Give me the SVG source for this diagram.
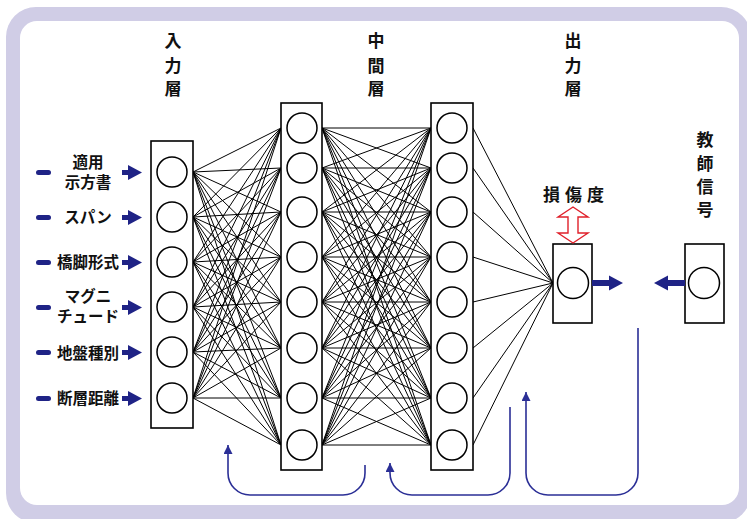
<svg xmlns="http://www.w3.org/2000/svg" width="747" height="519" viewBox="0 0 747 519">
<defs>
<style>
.t{font-family:"Noto Sans CJK JP","Noto Sans CJK SC",sans-serif;font-weight:bold;fill:#111;text-anchor:middle}
.lbl{font-size:15.5px}
.ttl{font-size:17px}
.box{fill:#fff;stroke:#000;stroke-width:1.6}
.nd{fill:#fff;stroke:#000;stroke-width:1.5}
.cn line{stroke:#000;stroke-width:1}
.navy{fill:#1f2386}
.fb{fill:none;stroke:#2b2f96;stroke-width:1.6}
</style>
<marker id="ah" viewBox="0 0 10 10" refX="10" refY="5" markerWidth="10" markerHeight="9" markerUnits="userSpaceOnUse" orient="auto">
<path d="M0,0 L10,5 L0,10 Z" fill="#2b2f96"/>
</marker>
</defs>
<rect x="6" y="7" width="745" height="516" rx="30" fill="#d0cde6"/>
<rect x="20" y="21" width="719" height="484" rx="17" fill="#fff"/>

<g id="connectors" class="cn">
<g id="c-in-h1">
<line x1="193" y1="172" x2="281" y2="128"/><line x1="193" y1="172" x2="281" y2="168"/><line x1="193" y1="172" x2="281" y2="212"/><line x1="193" y1="172" x2="281" y2="257"/><line x1="193" y1="172" x2="281" y2="302"/><line x1="193" y1="172" x2="281" y2="348"/><line x1="193" y1="172" x2="281" y2="398"/><line x1="193" y1="172" x2="281" y2="445"/>
<line x1="193" y1="217" x2="281" y2="128"/><line x1="193" y1="217" x2="281" y2="168"/><line x1="193" y1="217" x2="281" y2="212"/><line x1="193" y1="217" x2="281" y2="257"/><line x1="193" y1="217" x2="281" y2="302"/><line x1="193" y1="217" x2="281" y2="348"/><line x1="193" y1="217" x2="281" y2="398"/><line x1="193" y1="217" x2="281" y2="445"/>
<line x1="193" y1="262" x2="281" y2="128"/><line x1="193" y1="262" x2="281" y2="168"/><line x1="193" y1="262" x2="281" y2="212"/><line x1="193" y1="262" x2="281" y2="257"/><line x1="193" y1="262" x2="281" y2="302"/><line x1="193" y1="262" x2="281" y2="348"/><line x1="193" y1="262" x2="281" y2="398"/><line x1="193" y1="262" x2="281" y2="445"/>
<line x1="193" y1="307" x2="281" y2="128"/><line x1="193" y1="307" x2="281" y2="168"/><line x1="193" y1="307" x2="281" y2="212"/><line x1="193" y1="307" x2="281" y2="257"/><line x1="193" y1="307" x2="281" y2="302"/><line x1="193" y1="307" x2="281" y2="348"/><line x1="193" y1="307" x2="281" y2="398"/><line x1="193" y1="307" x2="281" y2="445"/>
<line x1="193" y1="352" x2="281" y2="128"/><line x1="193" y1="352" x2="281" y2="168"/><line x1="193" y1="352" x2="281" y2="212"/><line x1="193" y1="352" x2="281" y2="257"/><line x1="193" y1="352" x2="281" y2="302"/><line x1="193" y1="352" x2="281" y2="348"/><line x1="193" y1="352" x2="281" y2="398"/><line x1="193" y1="352" x2="281" y2="445"/>
<line x1="193" y1="398" x2="281" y2="128"/><line x1="193" y1="398" x2="281" y2="168"/><line x1="193" y1="398" x2="281" y2="212"/><line x1="193" y1="398" x2="281" y2="257"/><line x1="193" y1="398" x2="281" y2="302"/><line x1="193" y1="398" x2="281" y2="348"/><line x1="193" y1="398" x2="281" y2="398"/><line x1="193" y1="398" x2="281" y2="445"/>
</g>
<g id="c-h1-h2">
<line x1="322" y1="128" x2="431" y2="128"/><line x1="322" y1="128" x2="431" y2="168"/><line x1="322" y1="128" x2="431" y2="212"/><line x1="322" y1="128" x2="431" y2="257"/><line x1="322" y1="128" x2="431" y2="302"/><line x1="322" y1="128" x2="431" y2="348"/><line x1="322" y1="128" x2="431" y2="398"/><line x1="322" y1="128" x2="431" y2="445"/>
<line x1="322" y1="168" x2="431" y2="128"/><line x1="322" y1="168" x2="431" y2="168"/><line x1="322" y1="168" x2="431" y2="212"/><line x1="322" y1="168" x2="431" y2="257"/><line x1="322" y1="168" x2="431" y2="302"/><line x1="322" y1="168" x2="431" y2="348"/><line x1="322" y1="168" x2="431" y2="398"/><line x1="322" y1="168" x2="431" y2="445"/>
<line x1="322" y1="212" x2="431" y2="128"/><line x1="322" y1="212" x2="431" y2="168"/><line x1="322" y1="212" x2="431" y2="212"/><line x1="322" y1="212" x2="431" y2="257"/><line x1="322" y1="212" x2="431" y2="302"/><line x1="322" y1="212" x2="431" y2="348"/><line x1="322" y1="212" x2="431" y2="398"/><line x1="322" y1="212" x2="431" y2="445"/>
<line x1="322" y1="257" x2="431" y2="128"/><line x1="322" y1="257" x2="431" y2="168"/><line x1="322" y1="257" x2="431" y2="212"/><line x1="322" y1="257" x2="431" y2="257"/><line x1="322" y1="257" x2="431" y2="302"/><line x1="322" y1="257" x2="431" y2="348"/><line x1="322" y1="257" x2="431" y2="398"/><line x1="322" y1="257" x2="431" y2="445"/>
<line x1="322" y1="302" x2="431" y2="128"/><line x1="322" y1="302" x2="431" y2="168"/><line x1="322" y1="302" x2="431" y2="212"/><line x1="322" y1="302" x2="431" y2="257"/><line x1="322" y1="302" x2="431" y2="302"/><line x1="322" y1="302" x2="431" y2="348"/><line x1="322" y1="302" x2="431" y2="398"/><line x1="322" y1="302" x2="431" y2="445"/>
<line x1="322" y1="348" x2="431" y2="128"/><line x1="322" y1="348" x2="431" y2="168"/><line x1="322" y1="348" x2="431" y2="212"/><line x1="322" y1="348" x2="431" y2="257"/><line x1="322" y1="348" x2="431" y2="302"/><line x1="322" y1="348" x2="431" y2="348"/><line x1="322" y1="348" x2="431" y2="398"/><line x1="322" y1="348" x2="431" y2="445"/>
<line x1="322" y1="398" x2="431" y2="128"/><line x1="322" y1="398" x2="431" y2="168"/><line x1="322" y1="398" x2="431" y2="212"/><line x1="322" y1="398" x2="431" y2="257"/><line x1="322" y1="398" x2="431" y2="302"/><line x1="322" y1="398" x2="431" y2="348"/><line x1="322" y1="398" x2="431" y2="398"/><line x1="322" y1="398" x2="431" y2="445"/>
<line x1="322" y1="445" x2="431" y2="128"/><line x1="322" y1="445" x2="431" y2="168"/><line x1="322" y1="445" x2="431" y2="212"/><line x1="322" y1="445" x2="431" y2="257"/><line x1="322" y1="445" x2="431" y2="302"/><line x1="322" y1="445" x2="431" y2="348"/><line x1="322" y1="445" x2="431" y2="398"/><line x1="322" y1="445" x2="431" y2="445"/>
</g>
<g id="c-h2-out">
<line x1="473" y1="128" x2="553" y2="283"/><line x1="473" y1="168" x2="553" y2="283"/><line x1="473" y1="212" x2="553" y2="283"/><line x1="473" y1="257" x2="553" y2="283"/><line x1="473" y1="302" x2="553" y2="283"/><line x1="473" y1="348" x2="553" y2="283"/><line x1="473" y1="398" x2="553" y2="283"/><line x1="473" y1="445" x2="553" y2="283"/>
</g>
<g id="feedback">
<path class="fb" d="M365,465 V473 A22,22 0 0 1 343,495 H250 A22,22 0 0 1 228,473 V445" marker-end="url(#ah)"/>
<path class="fb" d="M510,407 V473 A22,22 0 0 1 488,495 H412 A22,22 0 0 1 390,473 V463" marker-end="url(#ah)"/>
<path class="fb" d="M638,328 V473 A22,22 0 0 1 616,495 H548 A22,22 0 0 1 526,473 V392" marker-end="url(#ah)"/>
</g>
</g>

<g id="input-layer">
<rect class="box" x="151" y="141" width="42" height="287"/>
<circle class="nd" cx="172" cy="172" r="15"/>
<circle class="nd" cx="172" cy="217" r="15"/>
<circle class="nd" cx="172" cy="262" r="15"/>
<circle class="nd" cx="172" cy="307" r="15"/>
<circle class="nd" cx="172" cy="352" r="15"/>
<circle class="nd" cx="172" cy="398" r="15"/>
</g>
<g id="hidden-layer-1">
<rect class="box" x="281" y="103" width="41" height="367"/>
<circle class="nd" cx="302" cy="128" r="15"/>
<circle class="nd" cx="302" cy="168" r="15"/>
<circle class="nd" cx="302" cy="212" r="15"/>
<circle class="nd" cx="302" cy="257" r="15"/>
<circle class="nd" cx="302" cy="302" r="15"/>
<circle class="nd" cx="302" cy="348" r="15"/>
<circle class="nd" cx="302" cy="398" r="15"/>
<circle class="nd" cx="302" cy="445" r="15"/>
</g>
<g id="hidden-layer-2">
<rect class="box" x="431" y="103" width="42" height="367"/>
<circle class="nd" cx="452" cy="128" r="15"/>
<circle class="nd" cx="452" cy="168" r="15"/>
<circle class="nd" cx="452" cy="212" r="15"/>
<circle class="nd" cx="452" cy="257" r="15"/>
<circle class="nd" cx="452" cy="302" r="15"/>
<circle class="nd" cx="452" cy="348" r="15"/>
<circle class="nd" cx="452" cy="398" r="15"/>
<circle class="nd" cx="452" cy="445" r="15"/>
</g>
<g id="output-layer">
<rect class="box" x="553" y="244" width="39" height="79"/>
<circle class="nd" cx="573" cy="283" r="15.5"/>
<path class="navy" d="M592,280 H609 V275.5 L623,283 L609,290.5 V286 H592 Z"/>
</g>
<g id="teacher">
<rect class="box" x="685" y="244" width="39" height="79"/>
<circle class="nd" cx="704" cy="283" r="15.5"/>
<path class="navy" d="M685,280 H668 V275.5 L654,283 L668,290.5 V286 H685 Z"/>
</g>
<g id="damage">
<text class="t ttl" x="576" y="201" letter-spacing="5">損傷度</text>
<path d="M573,207 L588,217 H578 V233 H588 L573,243 L558,233 H568 V217 H558 Z" fill="#fff" stroke="#e0202a" stroke-width="1.4"/>
</g>

<g id="titles" class="t ttl">
<text x="173"><tspan x="173" y="47">入</tspan><tspan x="173" y="72">力</tspan><tspan x="173" y="95">層</tspan></text>
<text x="376"><tspan x="376" y="47">中</tspan><tspan x="376" y="72">間</tspan><tspan x="376" y="95">層</tspan></text>
<text x="573"><tspan x="573" y="47">出</tspan><tspan x="573" y="72">力</tspan><tspan x="573" y="95">層</tspan></text>
<text x="705"><tspan x="705" y="146">教</tspan><tspan x="705" y="170">師</tspan><tspan x="705" y="193">信</tspan><tspan x="705" y="216">号</tspan></text>
</g>

<g id="inputs">
<g id="in1"><rect class="navy" x="36" y="170" width="15" height="5" rx="2.5"/><text class="t lbl" x="88" y="168">適用</text><text class="t lbl" x="88" y="188">示方書</text><path class="navy" d="M122,170 H128 V165 L142,172.5 L128,180 V175 H122 Z"/></g>
<g id="in2"><rect class="navy" x="36" y="215" width="15" height="5" rx="2.5"/><text class="t lbl" x="88" y="223">スパン</text><path class="navy" d="M122,215 H128 V210 L142,217.5 L128,225 V220 H122 Z"/></g>
<g id="in3"><rect class="navy" x="36" y="260" width="15" height="5" rx="2.5"/><text class="t lbl" x="88" y="268">橋脚形式</text><path class="navy" d="M122,260 H128 V255 L142,262.5 L128,270 V265 H122 Z"/></g>
<g id="in4"><rect class="navy" x="36" y="305" width="15" height="5" rx="2.5"/><text class="t lbl" x="88" y="302">マグニ</text><text class="t lbl" x="88" y="322">チュード</text><path class="navy" d="M122,305 H128 V300 L142,307.5 L128,315 V310 H122 Z"/></g>
<g id="in5"><rect class="navy" x="36" y="350" width="15" height="5" rx="2.5"/><text class="t lbl" x="88" y="359">地盤種別</text><path class="navy" d="M122,350 H128 V345 L142,352.5 L128,360 V355 H122 Z"/></g>
<g id="in6"><rect class="navy" x="36" y="396" width="15" height="5" rx="2.5"/><text class="t lbl" x="88" y="404">断層距離</text><path class="navy" d="M122,396 H128 V391 L142,398.5 L128,406 V401 H122 Z"/></g>
</g>
</svg>
